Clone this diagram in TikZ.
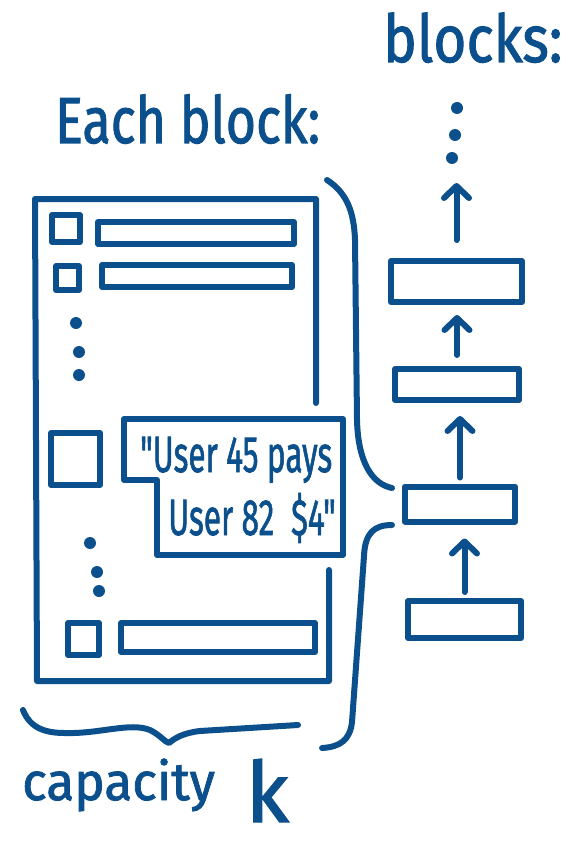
\documentclass[tikz,border=0pt]{standalone}
\usepackage{fontspec}
\setmainfont{Fira Sans}
\newfontfamily\handfont[FakeBold=1.6]{Fira Sans}
\usetikzlibrary{arrows.meta}
\definecolor{ink}{RGB}{11,80,140}
\tikzset{
  inkline/.style={draw=ink, line width=6pt, line cap=round, line join=round},
  box/.style={draw=ink, line width=6pt, line join=round, rectangle, inner sep=0pt},
  arr/.style={draw=ink, line width=6pt, line cap=round, -{Straight Barb[length=12pt,width=25pt,round]}},
  inkdot/.style={circle, fill=ink, inner sep=0pt, minimum size=12pt},
  lbl/.style={text=ink, inner sep=0pt, anchor=base west, font=\handfont}
}
\begin{document}
\begin{tikzpicture}[x=1pt,y=-1pt]
\useasboundingbox (0,0) rectangle (577,853);
% titles
\node[lbl] (each) at (55,143) {\fontsize{65}{65}\selectfont\scalebox{0.8}[1]{Each block:}};
\node[lbl] (blocks) at (383,62) {\fontsize{66}{66}\selectfont\scalebox{0.86}[1]{blocks:}};
\node[lbl] (cap) at (22,800) {\fontsize{53}{53}\selectfont\scalebox{0.97}[1]{capacity}\hspace{31pt}\fontsize{84}{84}\selectfont\raisebox{-22pt}{k}};
% main block outline
\draw[inkline] (316,403) -- (316,199) -- (35,199) -- (37,681) -- (329,681) -- (329,570);
% rows
\node[box, minimum width=28pt, minimum height=27pt] (r1sq) at (66,228.5) {};
\node[box, minimum width=196pt, minimum height=22pt] (r1bar) at (196,233) {};
\node[box, minimum width=23pt, minimum height=24pt] (r2sq) at (67.5,278) {};
\node[box, minimum width=190pt, minimum height=22pt] (r2bar) at (197,276) {};
\node[inkdot] (d1) at (76,323) {};
\node[inkdot] (d2) at (79,352) {};
\node[inkdot] (d3) at (79,375) {};
\node[box, minimum width=49pt, minimum height=52pt] (r3sq) at (75.5,459) {};
% highlighted record
\draw[inkline] (124,419) -- (343,419) -- (343,555) -- (157,555) -- (157,480) -- (124,480) -- cycle;
\node[lbl] (hl1) at (140,472) {\fontsize{51}{51}\selectfont\scalebox{0.62}[1]{"User 45 pays}};
\node[lbl] (hl2) at (168,535) {\fontsize{51}{51}\selectfont\scalebox{0.62}[1]{User 82 \ \$4"}};
\node[inkdot] (d4) at (90,543) {};
\node[inkdot] (d5) at (97,572) {};
\node[inkdot] (d6) at (99,591) {};
\node[box, minimum width=31pt, minimum height=32pt] (r4sq) at (83.5,639) {};
\node[box, minimum width=194pt, minimum height=29pt] (r4bar) at (218,637.5) {};
% bottom brace
\draw[inkline] (23,710) .. controls (30,728) and (45,733) .. (65,733) .. controls (100,734) and (130,722) .. (150,730) .. controls (160,735) and (165,742) .. (169,743) .. controls (175,738) and (183,733) .. (200,731) -- (298,725);
% right brace
\draw[inkline] (327,180) .. controls (347,193) and (354,212) .. (355,240) -- (357,420) .. controls (358,462) and (372,484) .. (392,488);
\draw[inkline] (392,525) .. controls (374,525) and (365,533) .. (364,556) -- (352,722) .. controls (350,740) and (340,747) .. (322,748);
% chain of blocks
\node[box, minimum width=131pt, minimum height=41pt] (b1) at (456.5,281.5) {};
\node[box, minimum width=124pt, minimum height=31pt] (b2) at (457,384.5) {};
\node[box, minimum width=110pt, minimum height=35pt] (b3) at (460,504) {};
\node[box, minimum width=113pt, minimum height=37pt] (b4) at (464.5,619.5) {};
\coordinate (top) at (456.5,183);
\draw[arr, shorten <=6pt, shorten >=14pt] (b4.north) -- (b4.north |- b3.south);
\draw[arr, shorten <=6pt, shorten >=13pt] (b3.north) -- (b3.north |- b2.south);
\draw[arr, shorten <=11pt, shorten >=10pt] (b2.north) -- (b2.north |- b1.south);
\draw[arr, shorten <=18pt] (b1.north) -- (top);
\node[inkdot] (t1) at (457,108) {};
\node[inkdot] (t2) at (455,135) {};
\node[inkdot] (t3) at (452,158) {};
\end{tikzpicture}
\end{document}
